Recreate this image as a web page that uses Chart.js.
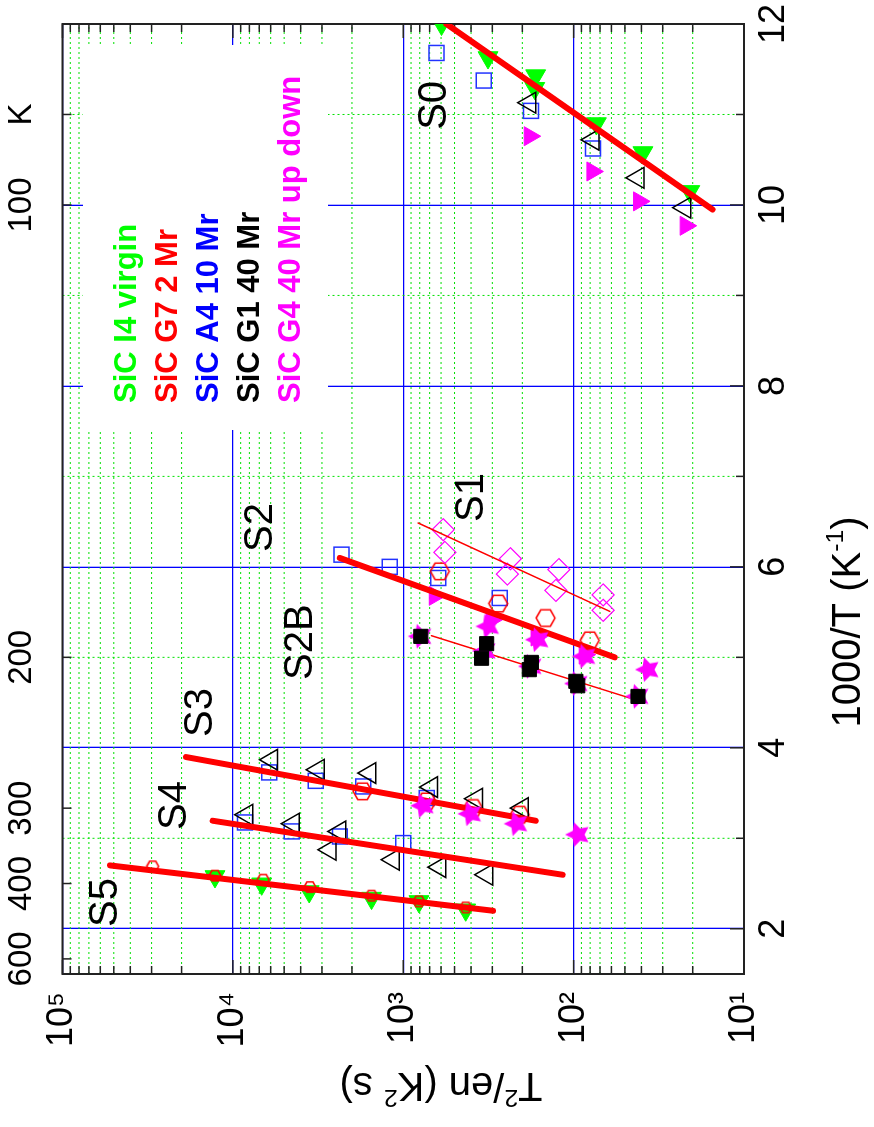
<!DOCTYPE html>
<html>

<head>
    <meta charset="utf-8">
    <title>SiC T2/en vs 1000/T</title>
    <script src="https://cdn.jsdelivr.net/npm/chart.js@4.4.1/dist/chart.umd.min.js"></script>
    <style>
        html,
        body {
            margin: 0;
            padding: 0;
            background: #fff;
            overflow: hidden;
        }

        /* the plot is drawn landscape and turned a quarter turn, like the original page */
        #wrap {
            position: absolute;
            left: 0;
            top: 0;
            width: 1127px;
            height: 874px;
            transform-origin: 0 0;
            transform: translate(0, 1127px) rotate(-90deg);
        }
    </style>
</head>

<body>
    <div id="wrap"><canvas id="plot" width="1127" height="874"></canvas></div>

    <script>
        // x = 1000/T (K^-1), y = T^2/en (K^2 s)
        const virginX = [12.0, 11.63, 11.43, 11.29, 10.9, 10.58, 10.15, 2.578, 2.497, 2.412, 2.339, 2.302, 2.21];
        const virginY = [596, 318, 167, 169, 73.5, 39.2, 20.8, 12735, 6776, 3565, 1535, 809, 430];

        const g7X = [5.95, 5.593, 5.434, 5.187, 3.518, 3.407, 3.334, 3.26];
        const g7Y = [610, 277, 146, 80.4, 1734, 729, 389, 207];
        const g7SmallX = [2.689, 2.586, 2.542, 2.46, 2.365, 2.302, 2.235];
        const g7SmallY = [29580, 12735, 6637, 3532, 1535, 809, 430];

        const a4X = [11.68, 11.375, 11.04, 10.624, 6.135, 6.0, 5.877, 5.656, 3.728, 3.635, 3.573, 3.445, 3.175, 3.076, 3.02, 2.947];
        const a4Y = [638, 337, 178, 76.9, 2301, 1199, 624, 271, 6124, 3258, 1718, 729, 8492, 4519, 2355, 1000];

        const g1X = [11.13, 10.72, 10.30, 9.97, 3.868, 3.757, 3.721, 3.566, 3.437, 3.334, 3.26, 3.161, 3.076, 2.873, 2.763, 2.681, 2.597];
        const g1Y = [181, 76.9, 41.9, 22.3, 5929, 3155, 1570, 682, 372, 200, 8299, 4426, 2355, 2692, 1146, 610, 324];
        const g1SqX = [5.232, 5.151, 4.99, 4.944, 4.864, 4.735, 4.686, 4.568];
        const g1SqY = [789, 324, 347, 177, 182, 97, 94.6, 41.9];

        const g4TriX = [10.76, 10.37, 10.04, 9.77, 5.68, 5.416, 5.23, 5.03];
        const g4TriY = [181, 77.6, 41.3, 22, 653, 303, 165, 86.1];
        const g4StarX = [5.342, 5.195, 5.01, 4.864, 5.232, 5.07, 4.90, 4.71, 4.568, 3.36, 3.27, 3.16, 3.04];
        const g4StarY = [316, 162, 86.1, 36.6, 789, 331, 178, 95.5, 41.9, 764, 403, 216, 94.2];
        const g4DiaX = [6.411, 6.16, 6.09, 5.92, 5.97, 5.74, 5.69, 5.52];
        const g4DiaY = [583, 570, 235, 245, 122, 127, 67.1, 67.1];

        // fitted Arrhenius lines (end points)
        const fitS0X = [12.0, 9.95], fitS0Y = [558, 15.3];
        const fitS2X = [6.098, 5.0], fitS2Y = [2355, 57.4];
        const fitS3X = [3.898, 3.194], fitS3Y = [18836, 167];
        const fitS4X = [3.194, 2.597], fitS4Y = [13150, 116];
        const fitS5X = [2.700, 2.199], fitS5Y = [52600, 297];
        const fitS1X = [6.485, 5.508], fitS1Y = [818, 61.4];
        const fitS2BX = [5.239, 4.551], fitS2BY = [682, 46.9];

        // level labels
        const stateNames = ['S0', 'S1', 'S2', 'S2B', 'S3', 'S4', 'S5'];
        const stateX = [10.83, 6.497, 6.165, 4.75, 4.12, 3.092, 2.02];
        const stateY = [562, 341, 5902, 3436, 13270, 18830, 47860];

        const sampleNames = ['SiC I4 virgin', 'SiC G7 2 Mr', 'SiC A4 10 Mr', 'SiC G1 40 Mr', 'SiC G4 40 Mr up down'];
        const sampleColors = ['#00ff00', '#ff0000', '#0000ff', '#000000', '#ff00ff'];

        const xTicks = [2, 4, 6, 8, 10, 12];
        const xMinor = [3, 5, 7, 9, 11];
        const topTickPos = [1.667, 2.5, 3.333, 5, 10, 11];
        const topTickLabels = ['600', '400', '300', '200', '100', 'K'];
        const yTicks = [10, 100, 1000, 10000, 100000];
        const yTickLabels = ['10¹', '10²', '10³', '10⁴', '10⁵'];

        const FONT = '"Liberation Sans", Arial, Helvetica, sans-serif';

        function pts(xs, ys) {
            return xs.map((x, i) => ({ x: x, y: ys[i] }));
        }

        // small canvases used as point styles
        function markerCanvas(r, draw) {
            const c = document.createElement('canvas');
            const s = Math.ceil(2 * r + 4);
            c.width = s;
            c.height = s;
            const g = c.getContext('2d');
            g.translate(s / 2, s / 2);
            draw(g, r);
            return c;
        }

        function hexagon(r, color) {
            return markerCanvas(r, (g) => {
                g.beginPath();
                for (let i = 0; i < 6; i++) {
                    const a = -Math.PI / 2 + i * Math.PI / 3;
                    g.lineTo(r * Math.cos(a), r * Math.sin(a));
                }
                g.closePath();
                g.strokeStyle = color;
                g.lineWidth = 1.5;
                g.stroke();
            });
        }

        function star(r, color) {
            return markerCanvas(r, (g) => {
                g.beginPath();
                for (let i = 0; i < 10; i++) {
                    const a = -Math.PI / 2 + i * Math.PI / 5;
                    const rr = i % 2 ? r * 0.5 : r;
                    g.lineTo(rr * Math.cos(a), rr * Math.sin(a));
                }
                g.closePath();
                g.fillStyle = color;
                g.fill();
            });
        }

        const hexBig = hexagon(9.5, '#ff0000');
        const hexSmall = hexagon(6, '#ff0000');
        const starImg = star(13, '#ff00ff');

        function fitLine(xs, ys, w, order) {
            return {
                data: pts(xs, ys),
                showLine: true,
                pointRadius: 0,
                borderColor: '#ff0000',
                borderWidth: w,
                borderCapStyle: 'round',
                fill: false,
                order: order
            };
        }

        // text with superscripts, parts = [[text, isSup], ...]
        function richText(ctx, parts, x, y, size) {
            const fontOf = (sup) => (sup ? size * 0.62 : size) + 'px ' + FONT;
            let w = 0;
            parts.forEach(([t, sup]) => {
                ctx.font = fontOf(sup);
                w += ctx.measureText(t).width;
            });
            let cx = x - w / 2;
            ctx.textAlign = 'left';
            ctx.textBaseline = 'alphabetic';
            parts.forEach(([t, sup]) => {
                ctx.font = fontOf(sup);
                ctx.fillText(t, cx, sup ? y - size * 0.42 : y);
                cx += ctx.measureText(t).width;
            });
        }

        const decor = {
            id: 'decor',
            beforeDatasetsDraw(chart) {
                const { ctx, chartArea: a, scales: { x, y, x2 } } = chart;
                const seg = (x1, y1, xe, ye) => {
                    ctx.beginPath();
                    ctx.moveTo(x1, y1);
                    ctx.lineTo(xe, ye);
                    ctx.stroke();
                };
                const yMinor = [];
                [10, 100, 1000, 10000].forEach(d => {
                    for (let k = 2; k <= 9; k++) yMinor.push(d * k);
                });

                ctx.save();
                // minor grid, green dotted
                ctx.strokeStyle = 'rgb(0,225,0)';
                ctx.lineWidth = 1;
                ctx.setLineDash([2, 3]);
                xMinor.forEach(v => {
                    const p = x.getPixelForValue(v);
                    seg(p, a.top, p, a.bottom);
                });
                yMinor.forEach(v => {
                    const p = y.getPixelForValue(v);
                    seg(a.left, p, a.right, p);
                });
                ctx.setLineDash([]);

                // opaque key box
                ctx.fillStyle = '#fff';
                ctx.fillRect(a.right - 406, a.top + 20.5, 385, 245);
                ctx.font = 'bold 31px ' + FONT;
                ctx.textAlign = 'left';
                ctx.textBaseline = 'alphabetic';
                sampleNames.forEach((name, i) => {
                    ctx.fillStyle = sampleColors[i];
                    ctx.fillText(name, a.right - 379, a.top + 73 + 41 * i);
                });

                // frame and inward ticks
                ctx.strokeStyle = '#222';
                ctx.lineWidth = 2;
                ctx.strokeRect(a.left, a.top, a.width, a.height);
                ctx.lineWidth = 1.5;
                yTicks.forEach(v => {
                    const p = y.getPixelForValue(v);
                    seg(a.left, p, a.left + 14, p);
                    seg(a.right, p, a.right - 14, p);
                });
                yMinor.forEach(v => {
                    const p = y.getPixelForValue(v);
                    seg(a.left, p, a.left + 8, p);
                    seg(a.right, p, a.right - 8, p);
                });
                xTicks.forEach(v => {
                    const p = x.getPixelForValue(v);
                    seg(p, a.bottom, p, a.bottom - 14);
                });
                xMinor.forEach(v => {
                    const p = x.getPixelForValue(v);
                    seg(p, a.bottom, p, a.bottom - 8);
                });
                topTickPos.forEach(v => {
                    const p = x2.getPixelForValue(v);
                    seg(p, a.top, p, a.top + 9);
                });

                // axis titles
                ctx.fillStyle = '#000';
                richText(ctx, [['1000/T (K', false], ['-1', true], [')', false]], 505, 860, 40);
                ctx.save();
                ctx.translate(54, 441);
                ctx.rotate(-Math.PI / 2);
                richText(ctx, [['T', false], ['2', true], ['/en (K', false], ['2', true], [' s)', false]], 0, 0, 40);
                ctx.restore();
                ctx.restore();
            },
            afterDatasetsDraw(chart) {
                const { ctx, scales: { x, y } } = chart;
                ctx.save();
                ctx.fillStyle = '#000';
                ctx.font = '40px ' + FONT;
                ctx.textAlign = 'left';
                ctx.textBaseline = 'alphabetic';
                stateNames.forEach((s, i) => {
                    ctx.fillText(s, x.getPixelForValue(stateX[i]), y.getPixelForValue(stateY[i]));
                });
                ctx.restore();
            }
        };

        const tickFont = { family: FONT, size: 36 };

        new Chart(document.getElementById('plot'), {
            type: 'scatter',
            data: {
                datasets: [
                    {
                        label: 'SiC G1 40 Mr',
                        data: pts(g1SqX, g1SqY),
                        pointStyle: 'rect', pointRadius: 10,
                        backgroundColor: '#000', borderColor: '#000', borderWidth: 1,
                        order: 0
                    },
                    {
                        label: 'SiC G4 40 Mr up down',
                        data: pts(g4StarX, g4StarY),
                        pointStyle: starImg, pointRadius: 13,
                        order: 1
                    },
                    fitLine(fitS0X, fitS0Y, 6, 2),
                    fitLine(fitS2X, fitS2Y, 6, 2),
                    fitLine(fitS3X, fitS3Y, 6, 2),
                    fitLine(fitS4X, fitS4Y, 6, 2),
                    fitLine(fitS5X, fitS5Y, 6, 2),
                    fitLine(fitS1X, fitS1Y, 1.5, 2),
                    fitLine(fitS2BX, fitS2BY, 1.5, 2),
                    {
                        label: 'SiC G4 40 Mr up down',
                        data: pts(g4TriX, g4TriY),
                        pointStyle: 'triangle', pointRotation: 180, pointRadius: 11,
                        backgroundColor: '#ff00ff', borderColor: '#ff00ff', borderWidth: 1,
                        order: 3
                    },
                    {
                        label: 'SiC G4 40 Mr up down',
                        data: pts(g4DiaX, g4DiaY),
                        pointStyle: 'rectRot', pointRadius: 11,
                        backgroundColor: 'rgba(0,0,0,0)', borderColor: '#ff00ff', borderWidth: 1.2,
                        order: 3
                    },
                    {
                        label: 'SiC G1 40 Mr',
                        data: pts(g1X, g1Y),
                        pointStyle: 'triangle', pointRadius: 12,
                        backgroundColor: 'rgba(0,0,0,0)', borderColor: '#000', borderWidth: 1.5,
                        order: 4
                    },
                    {
                        label: 'SiC G7 2 Mr',
                        data: pts(g7X, g7Y),
                        pointStyle: hexBig, pointRadius: 9.5,
                        order: 5
                    },
                    {
                        label: 'SiC G7 2 Mr',
                        data: pts(g7SmallX, g7SmallY),
                        pointStyle: hexSmall, pointRadius: 6,
                        order: 5
                    },
                    {
                        label: 'SiC A4 10 Mr',
                        data: pts(a4X, a4Y),
                        pointStyle: 'rect', pointRadius: 10.6,
                        backgroundColor: 'rgba(0,0,0,0)', borderColor: '#2233ff', borderWidth: 1.5,
                        order: 6
                    },
                    {
                        label: 'SiC I4 virgin',
                        data: pts(virginX, virginY),
                        pointStyle: 'triangle', pointRotation: 270, pointRadius: 11.5,
                        backgroundColor: '#00ff00', borderColor: '#00ff00', borderWidth: 1,
                        order: 7
                    }
                ]
            },
            options: {
                responsive: false,
                animation: false,
                devicePixelRatio: 1,
                events: [],
                layout: { padding: { top: 0, left: 0, bottom: 0, right: 24 } },
                plugins: {
                    legend: { display: false },
                    tooltip: { enabled: false }
                },
                scales: {
                    x: {
                        type: 'linear',
                        position: 'bottom',
                        min: 1.5,
                        max: 12,
                        afterBuildTicks: s => { s.ticks = xTicks.map(v => ({ value: v })); },
                        afterFit: s => { s.height = 130; s.paddingLeft = 0; s.paddingRight = 0; },
                        grid: { color: '#0000ff', lineWidth: 1.3, drawTicks: false },
                        border: { display: false },
                        ticks: {
                            padding: 8, maxRotation: 0, autoSkip: false, color: '#000', font: tickFont,
                            callback: (v, i) => String(xTicks[i])
                        }
                    },
                    x2: {
                        type: 'linear',
                        position: 'top',
                        min: 1.5,
                        max: 12,
                        afterBuildTicks: s => { s.ticks = topTickPos.map(v => ({ value: v })); },
                        afterFit: s => { s.height = 62.5; s.paddingLeft = 0; s.paddingRight = 0; },
                        grid: { display: false, drawTicks: false },
                        border: { display: false },
                        ticks: {
                            padding: 21, maxRotation: 0, autoSkip: false, color: '#000',
                            font: { family: FONT, size: 33 },
                            callback: (v, i) => topTickLabels[i]
                        }
                    },
                    y: {
                        type: 'logarithmic',
                        position: 'left',
                        min: 10,
                        max: 100000,
                        afterBuildTicks: s => { s.ticks = yTicks.map(v => ({ value: v })); },
                        afterFit: s => { s.width = 153; s.paddingTop = 0; s.paddingBottom = 0; },
                        grid: { color: '#0000ff', lineWidth: 1.3, drawTicks: false },
                        border: { display: false },
                        ticks: {
                            padding: 18, autoSkip: false, color: '#000', font: tickFont,
                            callback: (v, i) => yTickLabels[i]
                        }
                    }
                }
            },
            plugins: [decor]
        });
    </script>
</body>

</html>
